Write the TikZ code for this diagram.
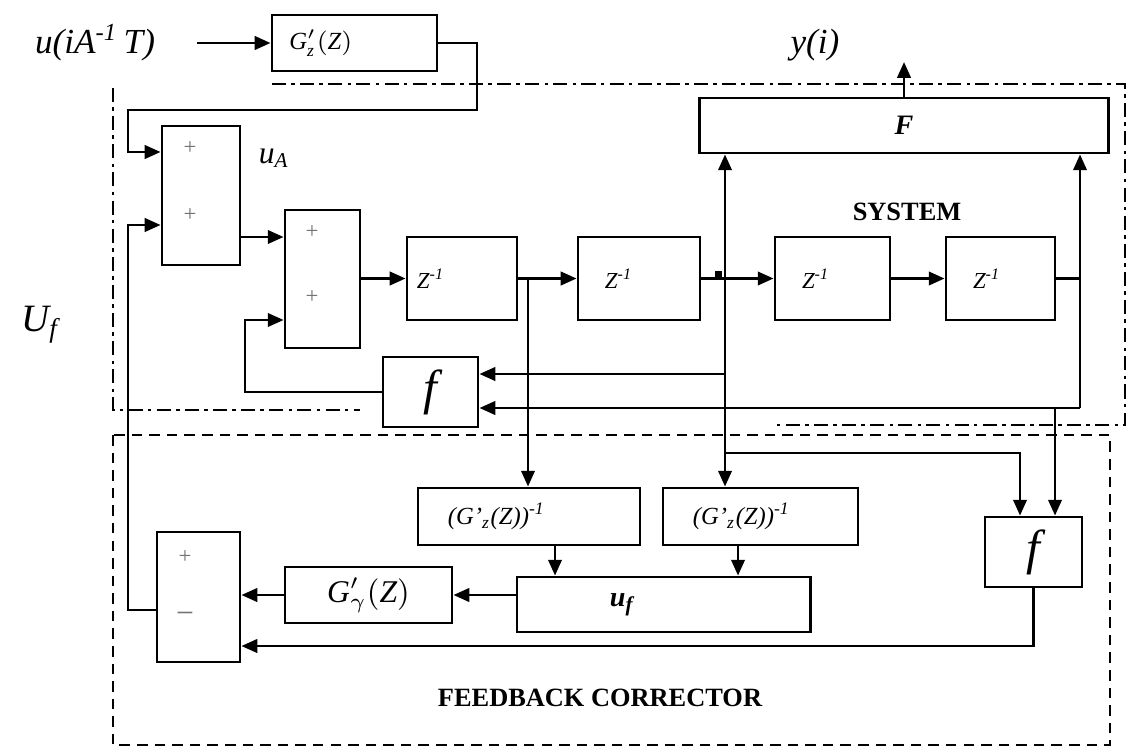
\documentclass[tikz,border=0pt]{standalone}
\usepackage{fontspec}
\setmainfont{Liberation Serif}
\usepackage{tikz}
\usetikzlibrary{arrows.meta, calc, positioning}
\newcommand{\fsz}[1]{\fontsize{#1}{#1}\selectfont}

\begin{document}
\begin{tikzpicture}[x=0.01cm, y=-0.01cm,
  blk/.style={draw, thick, inner sep=0pt},
  lft/.style={align=left, text width=#1},
  arr/.style={thick, -{Triangle[length=4.5pt, width=3.8pt]}},
  sgn/.style={font=\fsz{6.5}, text=black!55},
  syslim/.style={thick, dash pattern=on 4pt off 1.5pt on 1pt off 1.5pt},
  corlim/.style={thick, dash pattern=on 3pt off 2pt}]

\useasboundingbox (0,0) rectangle (1128,749);

% Input filter
\node[font=\fsz{10}\itshape] (uin) at (95,43) {u(iA\textsuperscript{-1}\,T)};
\node[blk, minimum width=1.65cm, minimum height=0.56cm, lft=1.3cm, font=\fsz{7}] (gz) at (354.5,43) {$\mathit{G}^{\prime}_{\mathit{z}}(\mathit{Z})$};
\draw[arr, shorten <=0.3cm] (uin.east) -- (gz.west);

% Adders
\node[blk, minimum width=0.78cm, minimum height=1.39cm] (s1) at (201,195.5) {};
\node[sgn] at (190,148) {+};
\node[sgn] at (190,215) {+};
\node[blk, minimum width=0.75cm, minimum height=1.38cm] (s2) at (322.5,279) {};
\node[sgn] at (312,232) {+};
\node[sgn] at (312,297) {+};
\node[font=\fsz{9}\itshape] (ua) at (274,158) {u\textsubscript{A}};
\node[font=\fsz{11}\itshape] (Uf) at (40,325) {U\textsubscript{f}};

% Delay chain
\node[blk, minimum width=1.10cm, minimum height=0.83cm, lft=0.9cm, font=\fsz{6.5}\itshape] (z1) at (462,278.5) {Z\textsuperscript{-1}};
\node[blk, minimum width=1.22cm, minimum height=0.83cm, lft=0.68cm, font=\fsz{6.5}\itshape] (z2) at (639,278.5) {Z\textsuperscript{-1}};
\node[blk, minimum width=1.15cm, minimum height=0.83cm, lft=0.61cm, font=\fsz{6.5}\itshape] (z3) at (832.5,278.5) {Z\textsuperscript{-1}};
\node[blk, minimum width=1.09cm, minimum height=0.83cm, lft=0.55cm, font=\fsz{6.5}\itshape] (z4) at (1000.5,278.5) {Z\textsuperscript{-1}};
\fill (715,271) rectangle (722,278);

% Output map
\node[blk, minimum width=4.08cm, minimum height=0.55cm, font=\fsz{8}\bfseries\itshape] (F) at (904,125.5) {F};
\node[font=\fsz{10}\itshape] (yout) at (815,45) {y(i)};
\coordinate (ytip) at (904,62);
\node[font=\fsz{7.5}\bfseries] (sys) at (907,212) {SYSTEM};
\node[blk, minimum width=0.95cm, minimum height=0.70cm, font=\fsz{14}\itshape] (f1) at (430.5,392) {f};

% Feedback corrector
\node[blk, minimum width=2.22cm, minimum height=0.57cm, lft=1.62cm, font=\fsz{7}\itshape] (ga) at (529,516.5) {(G'\textsubscript{z}(Z))\textsuperscript{-1}};
\node[blk, minimum width=1.95cm, minimum height=0.57cm, lft=1.35cm, font=\fsz{7}\itshape] (gb) at (760.5,516.5) {(G'\textsubscript{z}(Z))\textsuperscript{-1}};
\node[blk, minimum width=2.93cm, minimum height=0.55cm, lft=1.07cm, font=\fsz{8}\bfseries\itshape] (uf) at (663.5,604.5) {u\textsubscript{f}};
\node[blk, minimum width=1.67cm, minimum height=0.56cm, font=\fsz{9}] (gg) at (368.5,595) {$\mathit{G}^{\prime}_{\gamma}(\mathit{Z})$};
\node[blk, minimum width=0.83cm, minimum height=1.30cm] (s3) at (198.5,597) {};
\node[sgn] at (185,557) {+};
\node[sgn, font=\fsz{9}] at (185,618) {−};
\node[blk, minimum width=0.97cm, minimum height=0.70cm, font=\fsz{14}\itshape] (f2) at (1033.5,552) {f};
\node[font=\fsz{7.5}\bfseries] (fbc) at (600,698) {FEEDBACK CORRECTOR};

% Connectors
\draw[arr] (gz.east) -| (477,110) -| (128,152) -- (s1.west |- 0,152);
\draw[arr] (s3.west |- 0,610) -| (128,225) -- (s1.west |- 0,225);
\draw[arr] (s1.east |- 0,237) -- (s2.west |- 0,237);
\draw[arr] (s2.east |- z1) -- (z1.west);
\draw[arr] (z1) -- (z2);
\draw[arr] (z2) -- (z3);
\draw[arr] (z3) -- (z4);
\coordinate (b1) at (528,278.5);
\draw[arr] (b1) -- (b1 |- ga.north);
\coordinate (b2) at (725,278.5);
\draw[arr] (b2) -- (b2 |- F.south);
\draw[arr] (b2) -- (b2 |- gb.north);
\draw[arr] (b2 |- 0,374) -- (f1.east |- 0,374);
\coordinate (b3) at (1080,408);
\draw[thick] (z4.east) -- (z4.east -| b3);
\draw[arr] (b3) -- (b3 |- F.south);
\draw[arr] (b3) -- (f1.east |- b3);
\coordinate (b4) at (1055,408);
\draw[arr] (b4) -- (b4 |- f2.north);
\draw[arr] (b2 |- 0,453) -| (1020,0 |- f2.north);
\draw[arr] (f1.west) -| (245,320) -- (s2.west |- 0,320);
\draw[arr] (F.north) -- (ytip);
\draw[arr] (ga.south -| 555,0) -- (555,0 |- uf.north);
\draw[arr] (gb.south -| 738,0) -- (738,0 |- uf.north);
\draw[arr] (uf.west |- gg) -- (gg.east);
\draw[arr] (gg.west) -- (s3.east |- gg);
\draw[arr] (f2.south) |- (s3.east |- 0,646);

% Boundaries
\draw[syslim] (272,84) -- (1125,84) -- (1125,425) -- (773,425);
\draw[syslim] (113,88) -- (113,410) -- (360,410);
\draw[corlim] (113,435) rectangle (1110,745);

\end{tikzpicture}
\end{document}
